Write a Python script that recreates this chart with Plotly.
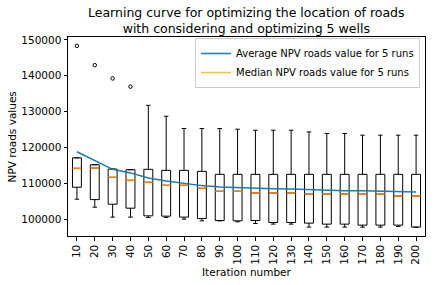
import plotly.graph_objects as go

iterations = [10, 20, 30, 40, 50, 60, 70, 80, 90, 100, 110, 120, 130, 140, 150, 160, 170, 180, 190, 200]
q1 = [108900, 105450, 104170, 103060, 100920, 100830, 100560, 100170, 99610, 99530,
      99610, 99060, 99060, 98890, 98610, 98610, 98330, 98330, 98330, 97780]
median = [114170, 114250, 111670, 110830, 110280, 109440, 109440, 108610, 107780, 107780,
          107310, 107310, 107310, 107030, 107030, 107030, 107030, 107030, 106470, 106470]
q3 = [117100, 115170, 113970, 113780, 113890, 113610, 113610, 113330, 112500, 112500,
      112500, 112500, 112500, 112500, 112500, 112500, 112500, 112500, 112500, 112500]
lower_whisker = [105560, 103330, 100560, 100560, 100450, 100450, 100000, 99530, 99530, 99250,
                 98780, 98610, 98610, 97780, 97780, 97780, 97780, 97780, 97970, 97780]
upper_whisker = [117100, 115170, 113970, 113780, 131750, 128690, 125280, 125280, 125280, 125080,
                 124800, 124800, 124800, 124330, 123890, 123890, 123420, 123420, 123420, 123420]
outlier_iter = [10, 20, 30, 40]
outlier_val = [148330, 142950, 139250, 136950]
mean_npv = [118800, 116250, 113900, 112900, 111450, 110650, 109950, 109350, 108950, 108750,
            108600, 108500, 108400, 108200, 108000, 107950, 107900, 107850, 107700, 107600]
title_text = "Learning curve for optimizing the location of roads<br>with considering and optimizing 5 wells"
x_title = "Iteration number"
y_title = "NPV roads values"

pos = list(range(1, len(iterations) + 1))
pos_of = {it: p for it, p in zip(iterations, pos)}
box_w = 0.5

FONT = "DejaVu Sans"
fig = go.Figure()

fig.add_trace(go.Box(
    x=pos, q1=q1, median=median, q3=q3,
    lowerfence=lower_whisker, upperfence=upper_whisker,
    width=box_w, whiskerwidth=0.5,
    line=dict(color="black", width=1), fillcolor="white",
    boxpoints=False, showlegend=False, hoverinfo="skip",
))

# median segments
mx, my = [], []
for p, m in zip(pos, median):
    mx += [p - box_w / 2, p + box_w / 2, None]
    my += [m, m, None]
fig.add_trace(go.Scatter(x=mx, y=my, mode="lines", line=dict(color="#ff7f0e", width=1.5),
                         showlegend=False, hoverinfo="skip"))

fig.add_trace(go.Scatter(
    x=[pos_of[i] for i in outlier_iter], y=outlier_val, mode="markers",
    marker=dict(symbol="circle-open", color="black", size=3.5, line=dict(width=1)),
    showlegend=False, hoverinfo="skip"))

fig.add_trace(go.Scatter(x=pos, y=mean_npv, mode="lines", line=dict(color="#1f77b4", width=1.5),
                         name="Average NPV roads value for 5 runs"))
fig.add_trace(go.Scatter(x=[None], y=[None], mode="lines", line=dict(color="#ffb84a", width=1.5),
                         name="Median NPV roads value for 5 runs"))

fig.add_annotation(text=title_text, xref="paper", yref="paper", x=0.5, y=1,
                   xanchor="center", yanchor="bottom", yshift=-1, showarrow=False,
                   align="center", font=dict(family=FONT, size=12.5, color="black"))
fig.add_annotation(text=x_title, xref="paper", yref="paper", x=0.5, y=-0.181,
                   xanchor="center", yanchor="middle", showarrow=False,
                   font=dict(family=FONT, size=10.5, color="black"))
fig.add_annotation(text=y_title, xref="paper", yref="paper", x=-0.157, y=0.5,
                   xanchor="center", yanchor="middle", textangle=-90, showarrow=False,
                   font=dict(family=FONT, size=10.5, color="black"))

fig.update_layout(
    width=436, height=285,
    margin=dict(l=68, r=11, t=37, b=49),
    paper_bgcolor="white", plot_bgcolor="white",
    font=dict(family=FONT, size=10.5, color="black"),
    legend=dict(x=0.986, y=0.995, xanchor="right", yanchor="top",
                bgcolor="white", bordercolor="#cccccc", borderwidth=1,
                font=dict(family=FONT, size=10), tracegroupgap=0, itemwidth=30),
    showlegend=True,
)
fig.update_xaxes(
    range=[0.5, len(iterations) + 0.5],
    tickmode="array", tickvals=pos, ticktext=[str(i) for i in iterations], tickangle=-90,
    showline=True, mirror=True, linecolor="black", linewidth=1,
    ticks="outside", ticklen=3.5, tickcolor="black", showgrid=False, zeroline=False,
)
fig.update_yaxes(
    range=[95300, 150800],
    tickmode="array", tickvals=[100000, 110000, 120000, 130000, 140000, 150000], tickformat="d",
    showline=True, mirror=True, linecolor="black", linewidth=1,
    ticks="outside", ticklen=3.5, tickcolor="black", showgrid=False, zeroline=False,
)

fig.write_html("out.html", config={"displayModeBar": False},
               post_script="document.body.style.margin='0';document.body.style.overflow='hidden';")
